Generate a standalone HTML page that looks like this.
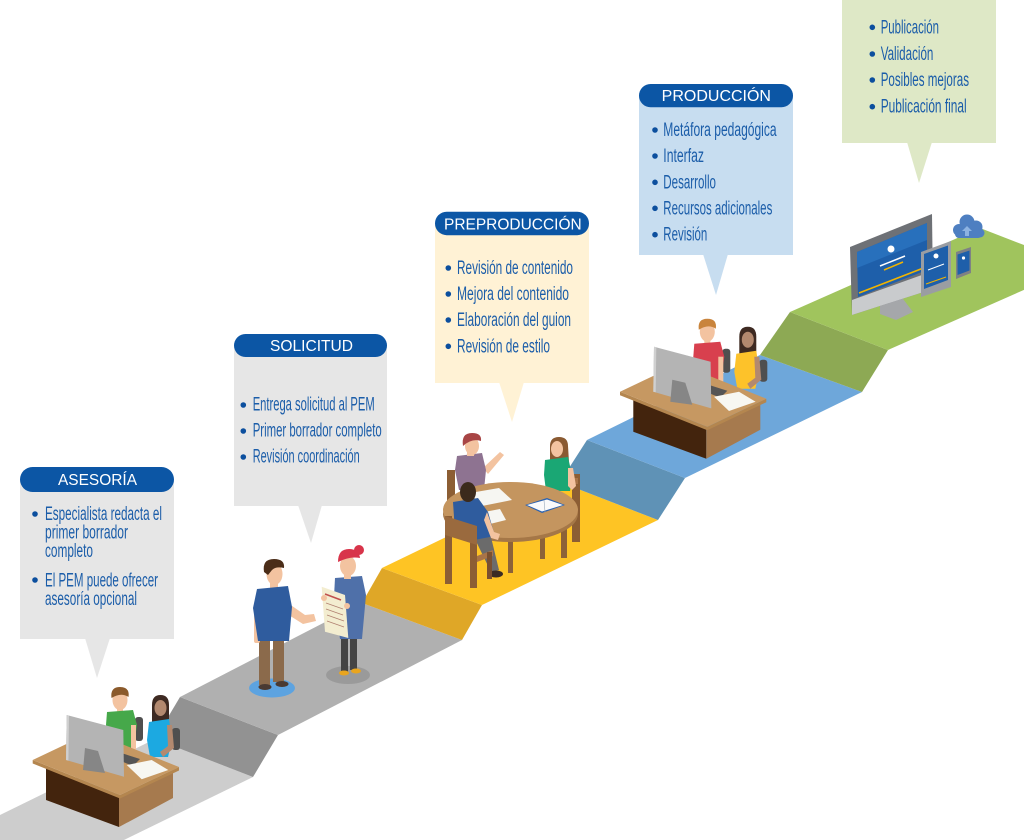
<!DOCTYPE html>
<html><head><meta charset="utf-8"><style>
html,body{margin:0;padding:0;background:#fff;}
svg{display:block;}
.t{font-family:"Liberation Sans Narrow","Liberation Sans",sans-serif;font-size:19px;fill:#1B5DA9;}
.h{font-family:"Liberation Sans",sans-serif;font-size:15.5px;fill:#fff;}
</style></head><body>
<svg width="1024" height="840" viewBox="0 0 1024 840" xmlns="http://www.w3.org/2000/svg">
<rect width="1024" height="840" fill="#fff"/>

<!-- PATH -->
<polygon points="0,815 155,739 253,777 124,840 0,840" fill="#CDCDCD"/>
<polygon points="180,697 278,735 253,777 155,739" fill="#929292"/>
<polygon points="180,697 362,603 462,640 278,735" fill="#B0B0B0"/>
<polygon points="382,568 482,605 462,640 362,603" fill="#DFA727"/>
<polygon points="382,568 560,482 658,520 482,605" fill="#FEC424"/>
<polygon points="587,440 685,478 658,520 560,482" fill="#5F92B6"/>
<polygon points="587,440 760,355 862,392 685,478" fill="#6EA7DA"/>
<polygon points="790,312 888,350 862,392 760,355" fill="#8DA954"/>
<polygon points="790,312 980,228 1078,266 888,350" fill="#A0C45D"/>

<!-- CALLOUT: ASESORIA -->
<rect x="20" y="479" width="154" height="160" fill="#E6E6E6"/>
<polygon points="85,638 110,638 97,678" fill="#E6E6E6"/>
<rect x="20" y="467" width="154" height="25" rx="12.5" fill="#0C56A5"/>
<text class="h" x="58" y="485" textLength="79" lengthAdjust="spacingAndGlyphs">ASESORÍA</text>
<circle cx="35" cy="514" r="2.8" fill="#0C4F9E"/>
<text class="t" x="45" y="520" textLength="117" lengthAdjust="spacingAndGlyphs">Especialista redacta el</text>
<text class="t" x="45" y="538.5" textLength="83" lengthAdjust="spacingAndGlyphs">primer borrador</text>
<text class="t" x="45" y="557" textLength="48" lengthAdjust="spacingAndGlyphs">completo</text>
<circle cx="35" cy="580" r="2.8" fill="#0C4F9E"/>
<text class="t" x="45" y="586.5" textLength="113" lengthAdjust="spacingAndGlyphs">El PEM puede ofrecer</text>
<text class="t" x="45" y="605" textLength="92" lengthAdjust="spacingAndGlyphs">asesoría opcional</text>

<!-- CALLOUT: SOLICITUD -->
<rect x="234" y="345" width="153" height="161" fill="#E6E6E6"/>
<polygon points="298,505 322,505 311,543" fill="#E6E6E6"/>
<rect x="234" y="334" width="153" height="23" rx="11.5" fill="#0C56A5"/>
<text class="h" x="270" y="351" textLength="83" lengthAdjust="spacingAndGlyphs">SOLICITUD</text>
<circle cx="243.3" cy="405" r="2.8" fill="#0C4F9E"/>
<text class="t" x="252.7" y="410.7" textLength="122" lengthAdjust="spacingAndGlyphs">Entrega solicitud al PEM</text>
<circle cx="243.3" cy="431" r="2.8" fill="#0C4F9E"/>
<text class="t" x="252.7" y="436.7" textLength="129" lengthAdjust="spacingAndGlyphs">Primer borrador completo</text>
<circle cx="243.3" cy="457" r="2.8" fill="#0C4F9E"/>
<text class="t" x="252.7" y="462.7" textLength="107" lengthAdjust="spacingAndGlyphs">Revisión coordinación</text>

<!-- CALLOUT: PREPRODUCCION -->
<rect x="435" y="223" width="154" height="160" fill="#FFF2D5"/>
<polygon points="499,382 524,382 512,422" fill="#FFF2D5"/>
<rect x="435" y="211.7" width="154" height="23.5" rx="11.7" fill="#0C56A5"/>
<text class="h" x="444" y="229.3" textLength="137.7" lengthAdjust="spacingAndGlyphs">PREPRODUCCIÓN</text>
<circle cx="448.3" cy="268" r="2.8" fill="#0C4F9E"/>
<text class="t" x="457" y="274" textLength="116" lengthAdjust="spacingAndGlyphs">Revisión de contenido</text>
<circle cx="448.3" cy="294" r="2.8" fill="#0C4F9E"/>
<text class="t" x="457" y="300" textLength="112" lengthAdjust="spacingAndGlyphs">Mejora del contenido</text>
<circle cx="448.3" cy="320" r="2.8" fill="#0C4F9E"/>
<text class="t" x="457" y="326" textLength="114" lengthAdjust="spacingAndGlyphs">Elaboración del guion</text>
<circle cx="448.3" cy="346.3" r="2.8" fill="#0C4F9E"/>
<text class="t" x="457" y="352.3" textLength="93" lengthAdjust="spacingAndGlyphs">Revisión de estilo</text>

<!-- CALLOUT: PRODUCCION -->
<rect x="639" y="95" width="154" height="160" fill="#C7DDF0"/>
<polygon points="703,254 728,254 716,295" fill="#C7DDF0"/>
<rect x="639" y="84" width="154" height="23.3" rx="11.6" fill="#0C56A5"/>
<text class="h" x="661.7" y="101" textLength="109.3" lengthAdjust="spacingAndGlyphs">PRODUCCIÓN</text>
<circle cx="655" cy="130" r="2.8" fill="#0C4F9E"/>
<text class="t" x="663.3" y="136" textLength="113.3" lengthAdjust="spacingAndGlyphs">Metáfora pedagógica</text>
<circle cx="655" cy="156" r="2.8" fill="#0C4F9E"/>
<text class="t" x="663.3" y="162" textLength="40.7" lengthAdjust="spacingAndGlyphs">Interfaz</text>
<circle cx="655" cy="182.3" r="2.8" fill="#0C4F9E"/>
<text class="t" x="663.3" y="188.3" textLength="52.7" lengthAdjust="spacingAndGlyphs">Desarrollo</text>
<circle cx="655" cy="208.3" r="2.8" fill="#0C4F9E"/>
<text class="t" x="663.3" y="214.3" textLength="109" lengthAdjust="spacingAndGlyphs">Recursos adicionales</text>
<circle cx="655" cy="234.7" r="2.8" fill="#0C4F9E"/>
<text class="t" x="663.3" y="240.7" textLength="44" lengthAdjust="spacingAndGlyphs">Revisión</text>

<!-- CALLOUT: GREEN -->
<rect x="842" y="0" width="154" height="143" fill="#DEE8C6"/>
<polygon points="907,142 932,142 919,183" fill="#DEE8C6"/>
<circle cx="872.3" cy="27.3" r="2.8" fill="#0C4F9E"/>
<text class="t" x="880.7" y="33.3" textLength="58.3" lengthAdjust="spacingAndGlyphs">Publicación</text>
<circle cx="872.3" cy="54" r="2.8" fill="#0C4F9E"/>
<text class="t" x="880.7" y="60" textLength="52.7" lengthAdjust="spacingAndGlyphs">Validación</text>
<circle cx="872.3" cy="80" r="2.8" fill="#0C4F9E"/>
<text class="t" x="880.7" y="86" textLength="88.3" lengthAdjust="spacingAndGlyphs">Posibles mejoras</text>
<circle cx="872.3" cy="106.7" r="2.8" fill="#0C4F9E"/>
<text class="t" x="880.7" y="112.7" textLength="86" lengthAdjust="spacingAndGlyphs">Publicación final</text>

<!-- DESK 1 -->
<g>
  <rect x="135" y="717" width="8" height="24" rx="3" fill="#4F4F4F"/>
  <rect x="172" y="728" width="8" height="22" rx="3" fill="#4F4F4F"/>
  <rect x="117" y="707" width="6" height="6" fill="#F3C3A0"/>
  <ellipse cx="120" cy="700" rx="7.5" ry="10" fill="#F3C3A0"/>
  <path d="M111.5,698 Q110,687 120,687 Q130,687 128.5,697 Q121,692 111.5,698 Z" fill="#8B5A2B"/>
  <polygon points="107,712 133,710 137,725 133,752 112,752 106,725" fill="#46A84A"/>
  <rect x="131" y="725" width="5" height="26" fill="#F3C3A0"/>
  <path d="M152,723 L152,705 Q152,695 160.5,695 Q169,695 169,705 L169,723 Z" fill="#3E2A22"/>
  <ellipse cx="160.5" cy="708" rx="6" ry="8" fill="#B3896F"/>
  <polygon points="149,722 169,719 172,740 168,757 150,757 147,740" fill="#1CA9E1"/>
  <polygon points="167,725 172,725 174,748 163,757 160,752 168,746" fill="#B3896F"/>
  <polygon points="46,766 119,797 119,827 46,800" fill="#43240D"/>
  <polygon points="119,797 173,772 173,798 119,827" fill="#A67A4E"/>
  <polygon points="32.7,760 120,795 179,767 179,770.5 120,798.5 32.7,763.5" fill="#B4864F"/>
  <polygon points="32.7,760 91.7,732 179,767 120,795" fill="#C69862"/>
  <polygon points="118,752 140,759 133,766 116,759" fill="#555"/>
  <polygon points="126.7,765 151.7,760 168.3,770 141.7,779.3" fill="#F7F7F2"/>
  <polygon points="66.7,715 123.3,730 124,776.7 66,760" fill="#B4B4B4"/>
  <polygon points="66.7,715 69,715.6 68.4,760.6 66,760" fill="#D0D0D0"/>
  <polygon points="85,748 98,751 105,773 83,770" fill="#868686"/>
</g>

<!-- DESK 2 -->
<g transform="translate(587.3,-368.3)">
  <rect x="135" y="717" width="8" height="24" rx="3" fill="#4F4F4F"/>
  <rect x="172" y="728" width="8" height="22" rx="3" fill="#4F4F4F"/>
  <rect x="117" y="707" width="6" height="6" fill="#F3C3A0"/>
  <ellipse cx="120" cy="700" rx="7.5" ry="10" fill="#F3C3A0"/>
  <path d="M111.5,698 Q110,687 120,687 Q130,687 128.5,697 Q121,692 111.5,698 Z" fill="#C9843C"/>
  <polygon points="107,712 133,710 137,725 133,752 112,752 106,725" fill="#D8404E"/>
  <rect x="131" y="725" width="5" height="26" fill="#F3C3A0"/>
  <path d="M152,723 L152,705 Q152,695 160.5,695 Q169,695 169,705 L169,723 Z" fill="#3E2A22"/>
  <ellipse cx="160.5" cy="708" rx="6" ry="8" fill="#B3896F"/>
  <polygon points="149,722 169,719 172,740 168,757 150,757 147,740" fill="#FDC22A"/>
  <polygon points="167,725 172,725 174,748 163,757 160,752 168,746" fill="#B3896F"/>
  <polygon points="46,766 119,797 119,827 46,800" fill="#43240D"/>
  <polygon points="119,797 173,772 173,798 119,827" fill="#A67A4E"/>
  <polygon points="32.7,760 120,795 179,767 179,770.5 120,798.5 32.7,763.5" fill="#B4864F"/>
  <polygon points="32.7,760 91.7,732 179,767 120,795" fill="#C69862"/>
  <polygon points="118,752 140,759 133,766 116,759" fill="#555"/>
  <polygon points="126.7,765 151.7,760 168.3,770 141.7,779.3" fill="#F7F7F2"/>
  <polygon points="66.7,715 123.3,730 124,776.7 66,760" fill="#B4B4B4"/>
  <polygon points="66.7,715 69,715.6 68.4,760.6 66,760" fill="#D0D0D0"/>
  <polygon points="85,748 98,751 105,773 83,770" fill="#868686"/>
</g>

<!-- STANDING MAN -->
<ellipse cx="272" cy="688" rx="23" ry="9.5" fill="#5DA3E0"/>
<rect x="259" y="636" width="11" height="49" fill="#8B6A4B"/>
<rect x="273" y="636" width="11" height="46" fill="#8B6A4B"/>
<ellipse cx="265" cy="687" rx="6.5" ry="3" fill="#4A3A32"/>
<ellipse cx="282" cy="684" rx="6.5" ry="3" fill="#4A3A32"/>
<rect x="254" y="605" width="6" height="38" rx="2" fill="#F3C3A0"/>
<polygon points="285,601 305,615 314,614 316,621 303,624 284,612" fill="#F3C3A0"/>
<rect x="270" y="581" width="8" height="8" fill="#F3C3A0"/>
<polygon points="257,589 288,586 292,607 289,641 258,641 253,608" fill="#2F5C9E"/>
<ellipse cx="274.5" cy="574" rx="8" ry="11" fill="#F3C3A0"/>
<path d="M264,572 Q262,559 274,559 Q285,559 284,568 Q276,566 272,570 L268,575 Z" fill="#4B2D18"/>

<!-- STANDING WOMAN -->
<ellipse cx="348" cy="675" rx="22" ry="9" fill="#9A9A9A"/>
<rect x="341" y="636" width="7" height="36" fill="#444"/>
<rect x="350" y="636" width="7" height="34" fill="#444"/>
<ellipse cx="344" cy="673" rx="5" ry="2.5" fill="#E9A51F"/>
<ellipse cx="356" cy="671" rx="5" ry="2.5" fill="#E9A51F"/>
<polygon points="335,578 362,576 366,595 362,639 340,639 334,597" fill="#4F70A9"/>
<rect x="344" y="571" width="7" height="8" fill="#F3C3A0"/>
<ellipse cx="348" cy="566" rx="8" ry="10" fill="#F3C3A0"/>
<path d="M338,562 Q338,549 349,549 Q359,549 360,558 Q350,556 338,562 Z" fill="#D8344A"/>
<circle cx="359" cy="550" r="5" fill="#D8344A"/>
<polygon points="321.7,586.7 345,595 348.3,638 325,631.7" fill="#F3EDD0"/>
<line x1="325" y1="594" x2="341" y2="600" stroke="#C0504D" stroke-width="1.5"/>
<line x1="326" y1="603" x2="343" y2="609" stroke="#B08070" stroke-width="0.8"/>
<line x1="326" y1="609" x2="343" y2="615" stroke="#B08070" stroke-width="0.8"/>
<line x1="327" y1="615" x2="344" y2="621" stroke="#B08070" stroke-width="0.8"/>
<line x1="327" y1="621" x2="344" y2="627" stroke="#B08070" stroke-width="0.8"/>
<ellipse cx="324" cy="598" rx="3" ry="3" fill="#F3C3A0"/>
<ellipse cx="347" cy="606" rx="3" ry="3" fill="#F3C3A0"/>

<!-- MEETING TABLE -->
<rect x="447" y="470" width="8" height="35" fill="#8C5E34"/>
<rect x="572" y="474" width="8" height="68" fill="#8C5E34"/>
<rect x="564" y="478" width="14" height="6" fill="#A87448"/>
<!-- purple woman -->
<polygon points="483,468 500,452 504,455 488,474" fill="#F3C3A0"/>
<polygon points="457,456 482,453 486,470 484,490 459,490 455,470" fill="#8E7391"/>
<rect x="467" y="448" width="7" height="8" fill="#F3C3A0"/>
<ellipse cx="472" cy="446" rx="7" ry="9" fill="#F3C3A0"/>
<path d="M463,446 Q461,433 472,433 Q482,433 481,441 Q472,438 463,446 Z" fill="#A84545"/>
<!-- green woman -->
<path d="M550,462 L550,446 Q550,437 559,437 Q568,437 568,446 L569,462 Z" fill="#8A5A32"/>
<ellipse cx="557" cy="449" rx="6" ry="8" fill="#F3C3A0"/>
<polygon points="545,460 568,457 572,475 570,491 546,491 544,475" fill="#1AA774"/>
<polygon points="568,468 573,468 576,486 572,490 568,486" fill="#F3C3A0"/>
<!-- table -->
<rect x="508" y="530" width="5" height="43" fill="#8C6238"/>
<rect x="540" y="525" width="5" height="34" fill="#8C6238"/>
<rect x="561" y="522" width="6" height="36" fill="#8C6238"/>
<ellipse cx="510.5" cy="514" rx="67.5" ry="28" fill="#A57747"/>
<ellipse cx="510.5" cy="510" rx="67.5" ry="28" fill="#C4955F"/>
<polygon points="470,493 499,488 512,500 482,506" fill="#F6F6F2"/>
<polygon points="479,513 500,509 506,520 486,525" fill="#F6F6F2"/>
<polygon points="525,505 547,498 565,505 542,513" fill="#2B62B0"/>
<polygon points="527,505 547,499.5 563,505 542,511.5" fill="#FAFAFA"/>
<line x1="544" y1="500" x2="545" y2="512" stroke="#9AB" stroke-width="0.6"/>
<!-- front man -->
<polygon points="473,535 490,533 499,570 491,572" fill="#6B6B6B"/>
<ellipse cx="496" cy="574" rx="7" ry="3.5" fill="#3A2C24"/>
<polygon points="453,502 478,498 488,512 495,536 474,540 455,532" fill="#2F5C9E"/>
<polygon points="487,512 494,532 500,534 498,540 491,538 484,520" fill="#F3C3A0"/>
<ellipse cx="468" cy="492" rx="8" ry="10" fill="#3B2A1C"/>
<!-- front chair -->
<rect x="445" y="516" width="7" height="68" fill="#8C5E34"/>
<rect x="470" y="526" width="7" height="62" fill="#8C5E34"/>
<polygon points="445,516 477,526 477,545 445,535" fill="#9A6A3E"/>
<polygon points="477,556 493,550 493,556 477,562" fill="#A87448"/>
<rect x="487" y="552" width="5" height="27" fill="#7A5030"/>

<!-- DEVICES -->
<polygon points="880,302 900,295 913,312 896,320 880,314" fill="#A5A7AA"/>
<polygon points="850,247 932,214 933,289 852,315" fill="#6E7176"/>
<polygon points="852,300 933,271 933,289 852,315" fill="#C9CBCD"/>
<polygon points="857,252 927,223 927,270 858,297" fill="#1E5FAA"/>
<polygon points="857,252 927,223 927,240 857,268" fill="#2870BC"/>
<line x1="859" y1="293" x2="926" y2="267" stroke="#F2B400" stroke-width="1.6"/>
<circle cx="891" cy="249" r="3.5" fill="#fff"/>
<line x1="880" y1="266" x2="905" y2="256" stroke="#fff" stroke-width="1.5"/>
<line x1="884" y1="270" x2="903" y2="262" stroke="#F2B400" stroke-width="1.5"/>
<polygon points="921,252 951,241 951,287 921,297" fill="#9A9DA2"/>
<polygon points="924,254 948,245.5 948,280 924,289" fill="#1E5FAA"/>
<circle cx="936" cy="256" r="2.5" fill="#fff"/>
<line x1="928" y1="270" x2="944" y2="264" stroke="#fff" stroke-width="1"/>
<line x1="926" y1="284" x2="946" y2="277" stroke="#F2B400" stroke-width="1"/>
<polygon points="956,252 971,247 971,273 956,279" fill="#7E8185"/>
<polygon points="957.5,254.5 969.5,250.5 969.5,270.5 957.5,275" fill="#1E5FAA"/>
<circle cx="963.5" cy="258" r="1.6" fill="#fff"/>
<g fill="#4E7FC1">
  <circle cx="959" cy="230" r="6"/>
  <circle cx="967" cy="222" r="7.5"/>
  <circle cx="976" cy="227" r="6.5"/>
  <circle cx="980" cy="233" r="4.5"/>
  <rect x="955" y="229" width="27" height="9" rx="4"/>
</g>
<polygon points="967,226 972,231 969,231 969,236 965,236 965,231 962,231" fill="#8DB3E2"/>
</svg>
</body></html>
